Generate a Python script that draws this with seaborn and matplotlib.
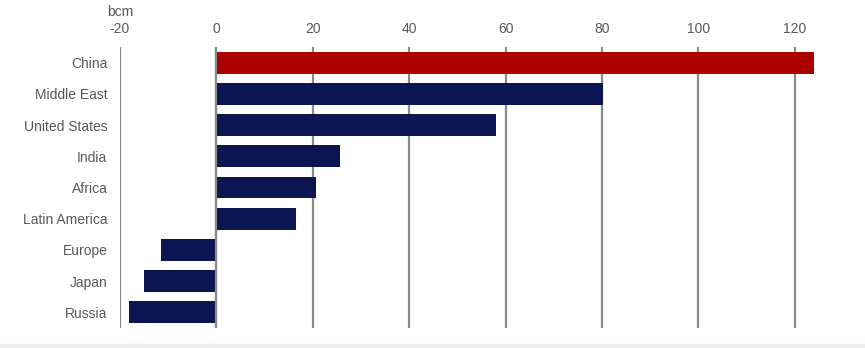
import matplotlib
matplotlib.use("Agg")
import matplotlib.pyplot as plt
import seaborn as sns
import pandas as pd

regions = ["China", "Middle East", "United States", "India", "Africa",
           "Latin America", "Europe", "Japan", "Russia"]
values = [124.0, 80.3, 58.0, 25.7, 20.7, 16.6, -11.4, -15.0, -18.2]
xticks = [-20, 0, 20, 40, 60, 80, 100, 120]
unit = "bcm"

sns.set_theme(style="white")
plt.rcParams["font.family"] = ["Liberation Sans", "DejaVu Sans"]
plt.rcParams["axes.unicode_minus"] = False

df = pd.DataFrame({"region": regions, "value": values})
palette = {r: ("#AA0000" if r == "China" else "#0B1650") for r in regions}

fig = plt.figure(figsize=(8.65, 3.48), dpi=100)
ax = fig.add_axes([0.1387, 0.0575, 0.8359, 0.8075])
for t in xticks:
    ax.axvline(t, color="#8a8a8a", lw=1.6, zorder=0.5)
sns.barplot(data=df, x="value", y="region", hue="region", palette=palette,
            order=regions, width=0.7, saturation=1, legend=False, ax=ax,
            linewidth=0, zorder=2)
ax.axvline(0, color="#8a8a8a", lw=1.6, zorder=3)
ax.set_xlim(-20, 130)
ax.set_ylim(len(regions) - 0.5, -0.5)
ax.set_xticks(xticks)
ax.xaxis.tick_top()
ax.tick_params(axis="x", length=0, pad=8, labelsize=10, labelcolor="#595959")
ax.tick_params(axis="y", length=0, pad=9, labelsize=10, labelcolor="#595959")
for s in ax.spines.values():
    s.set_visible(False)
ax.set_xlabel("")
ax.set_ylabel("")
ax.text(-20, 1.112, unit, transform=ax.get_xaxis_transform(), ha="center",
        va="baseline", fontsize=10, color="#595959")
fig.patches.append(plt.Rectangle((0, 0), 1, 0.012, transform=fig.transFigure,
                                 color="#eeeeee", zorder=0))
fig.savefig("out.png", dpi=100)
